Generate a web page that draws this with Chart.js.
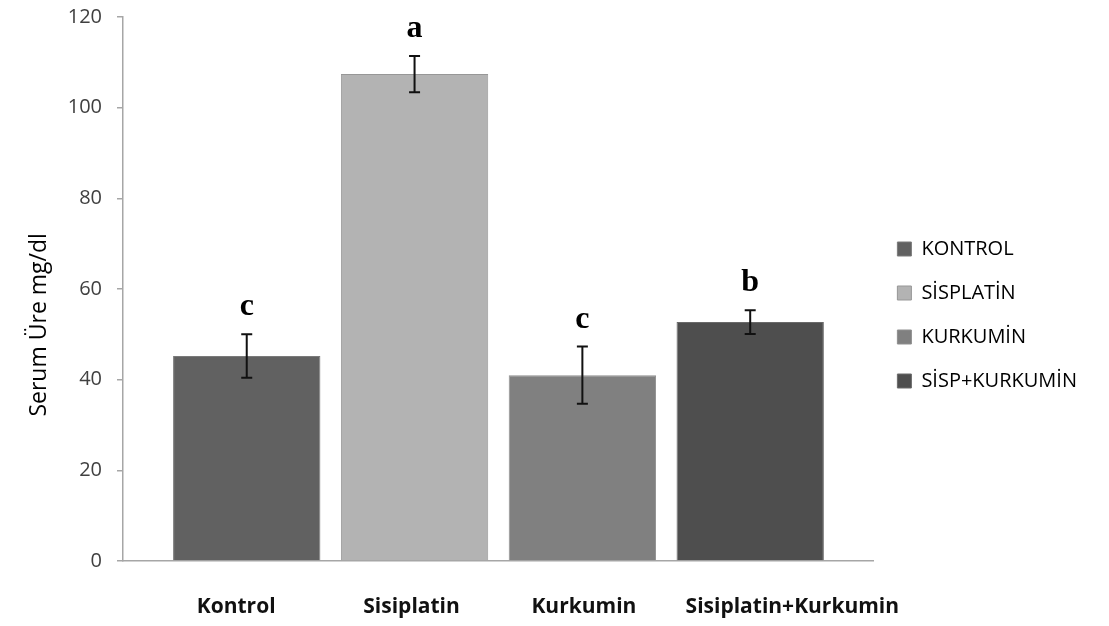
<!DOCTYPE html>
<html>
<head>
<meta charset="utf-8">
<title>Serum Üre</title>
<script src="https://cdn.jsdelivr.net/npm/chart.js@4/dist/chart.umd.min.js"></script>
<style>
  html, body { margin: 0; padding: 0; background: #fff; }
  #wrap { width: 1109px; height: 626px; }
</style>
</head>
<body>
<div id="wrap"><canvas id="ureChart" width="1109" height="626"></canvas></div>
<script>
// values
const groups = ['Kontrol', 'Sisiplatin', 'Kurkumin', 'Sisiplatin+Kurkumin'];
const legendNames = ['KONTROL', 'SİSPLATİN', 'KURKUMİN', 'SİSP+KURKUMİN'];
const ureMeans = [45.2, 107.4, 41.0, 52.7];
const ureErrors = [4.8, 4.0, 6.3, 2.6];
const sigLetters = ['c', 'a', 'c', 'b'];
const yTicks = [0, 20, 40, 60, 80, 100, 120];

const barFill = ['#616161', '#b3b3b3', '#808080', '#4e4e4e'];
const barEdge = ['#7a7a7a', '#979797', '#8f8f8f', '#6a6a6a'];

// error bars + significance letters
const errorBarPlugin = {
    id: 'errorBars',
    afterDatasetsDraw(chart) {
        const ctx = chart.ctx;
        const xs = chart.scales.x, ys = chart.scales.y;
        ctx.save();
        ctx.strokeStyle = '#111';
        ctx.lineWidth = 2;
        ctx.fillStyle = '#000';
        ctx.font = 'bold 32px "Liberation Serif", "DejaVu Serif", serif';
        ctx.textAlign = 'center';
        ctx.textBaseline = 'alphabetic';
        ureMeans.forEach((m, i) => {
            const x = xs.getPixelForValue(i + 1);
            const top = ys.getPixelForValue(m + ureErrors[i]);
            const bot = ys.getPixelForValue(m - ureErrors[i]);
            ctx.beginPath();
            ctx.moveTo(x, top); ctx.lineTo(x, bot);
            ctx.moveTo(x - 5.5, top); ctx.lineTo(x + 5.5, top);
            ctx.moveTo(x - 5.5, bot); ctx.lineTo(x + 5.5, bot);
            ctx.stroke();
            ctx.fillText(sigLetters[i], x, top - 19);
        });
        ctx.restore();
    }
};

document.addEventListener('DOMContentLoaded', function() {
    const labelAt = [0.937, 1.982, 3.009, 4.251];

    new Chart(document.getElementById('ureChart').getContext('2d'), {
        type: 'bar',
        data: {
            datasets: [{
                data: ureMeans.map((v, i) => ({ x: i + 1, y: v })),
                backgroundColor: barFill,
                borderColor: barEdge,
                borderWidth: 1,
                categoryPercentage: 1,
                barPercentage: 0.878
            }]
        },
        options: {
            responsive: false,
            animation: false,
            layout: { padding: { left: 22, top: 4, right: 22, bottom: 0 } },
            plugins: {
                tooltip: { enabled: false },
                legend: {
                    position: 'right',
                    labels: {
                        boxWidth: 14,
                        boxHeight: 14,
                        padding: 24,
                        color: '#404040',
                        font: { family: '"Open Sans", sans-serif', size: 20 },
                        generateLabels: () => legendNames.map((name, i) => ({
                            text: name,
                            fillStyle: barFill[i],
                            strokeStyle: barEdge[i],
                            lineWidth: 1,
                            hidden: false,
                            datasetIndex: 0,
                            index: i
                        }))
                    },
                    onClick: null
                }
            },
            scales: {
                x: {
                    type: 'linear',
                    offset: false,
                    min: 0.2627,
                    max: 4.734,
                    grid: { display: false, tickLength: 8 },
                    border: { display: true, color: '#a6a6a6', width: 1.5 },
                    afterBuildTicks: (scale) => {
                        scale.ticks = labelAt.map(v => ({ value: v }));
                    },
                    afterFit: (scale) => { scale.height = 65; },
                    ticks: {
                        autoSkip: false,
                        maxRotation: 0,
                        padding: 25,
                        color: '#111',
                        font: { family: '"Open Sans", sans-serif', size: 21, weight: 'bold' },
                        callback: (value, index) => groups[index]
                    }
                },
                y: {
                    min: 0,
                    max: 120,
                    afterBuildTicks: (scale) => {
                        scale.ticks = yTicks.map(v => ({ value: v }));
                    },
                    afterFit: (scale) => {
                        scale.width = 101;
                        scale.paddingTop = 17;
                        scale.paddingBottom = 0;
                    },
                    grid: {
                        drawOnChartArea: false,
                        drawTicks: true,
                        tickLength: 6,
                        color: '#a6a6a6',
                        lineWidth: 1.5
                    },
                    border: { display: true, color: '#a6a6a6', width: 1.5 },
                    ticks: {
                        padding: 15,
                        color: '#404040',
                        font: { family: '"Open Sans", sans-serif', size: 20 }
                    },
                    title: {
                        display: true,
                        text: 'Serum Üre mg/dl' + '\u00a0'.repeat(12),
                        color: '#000',
                        padding: { top: 4, bottom: 2 },
                        font: { family: '"Open Sans", sans-serif', size: 23 }
                    }
                }
            }
        },
        plugins: [errorBarPlugin]
    });
});
</script>
</body>
</html>
